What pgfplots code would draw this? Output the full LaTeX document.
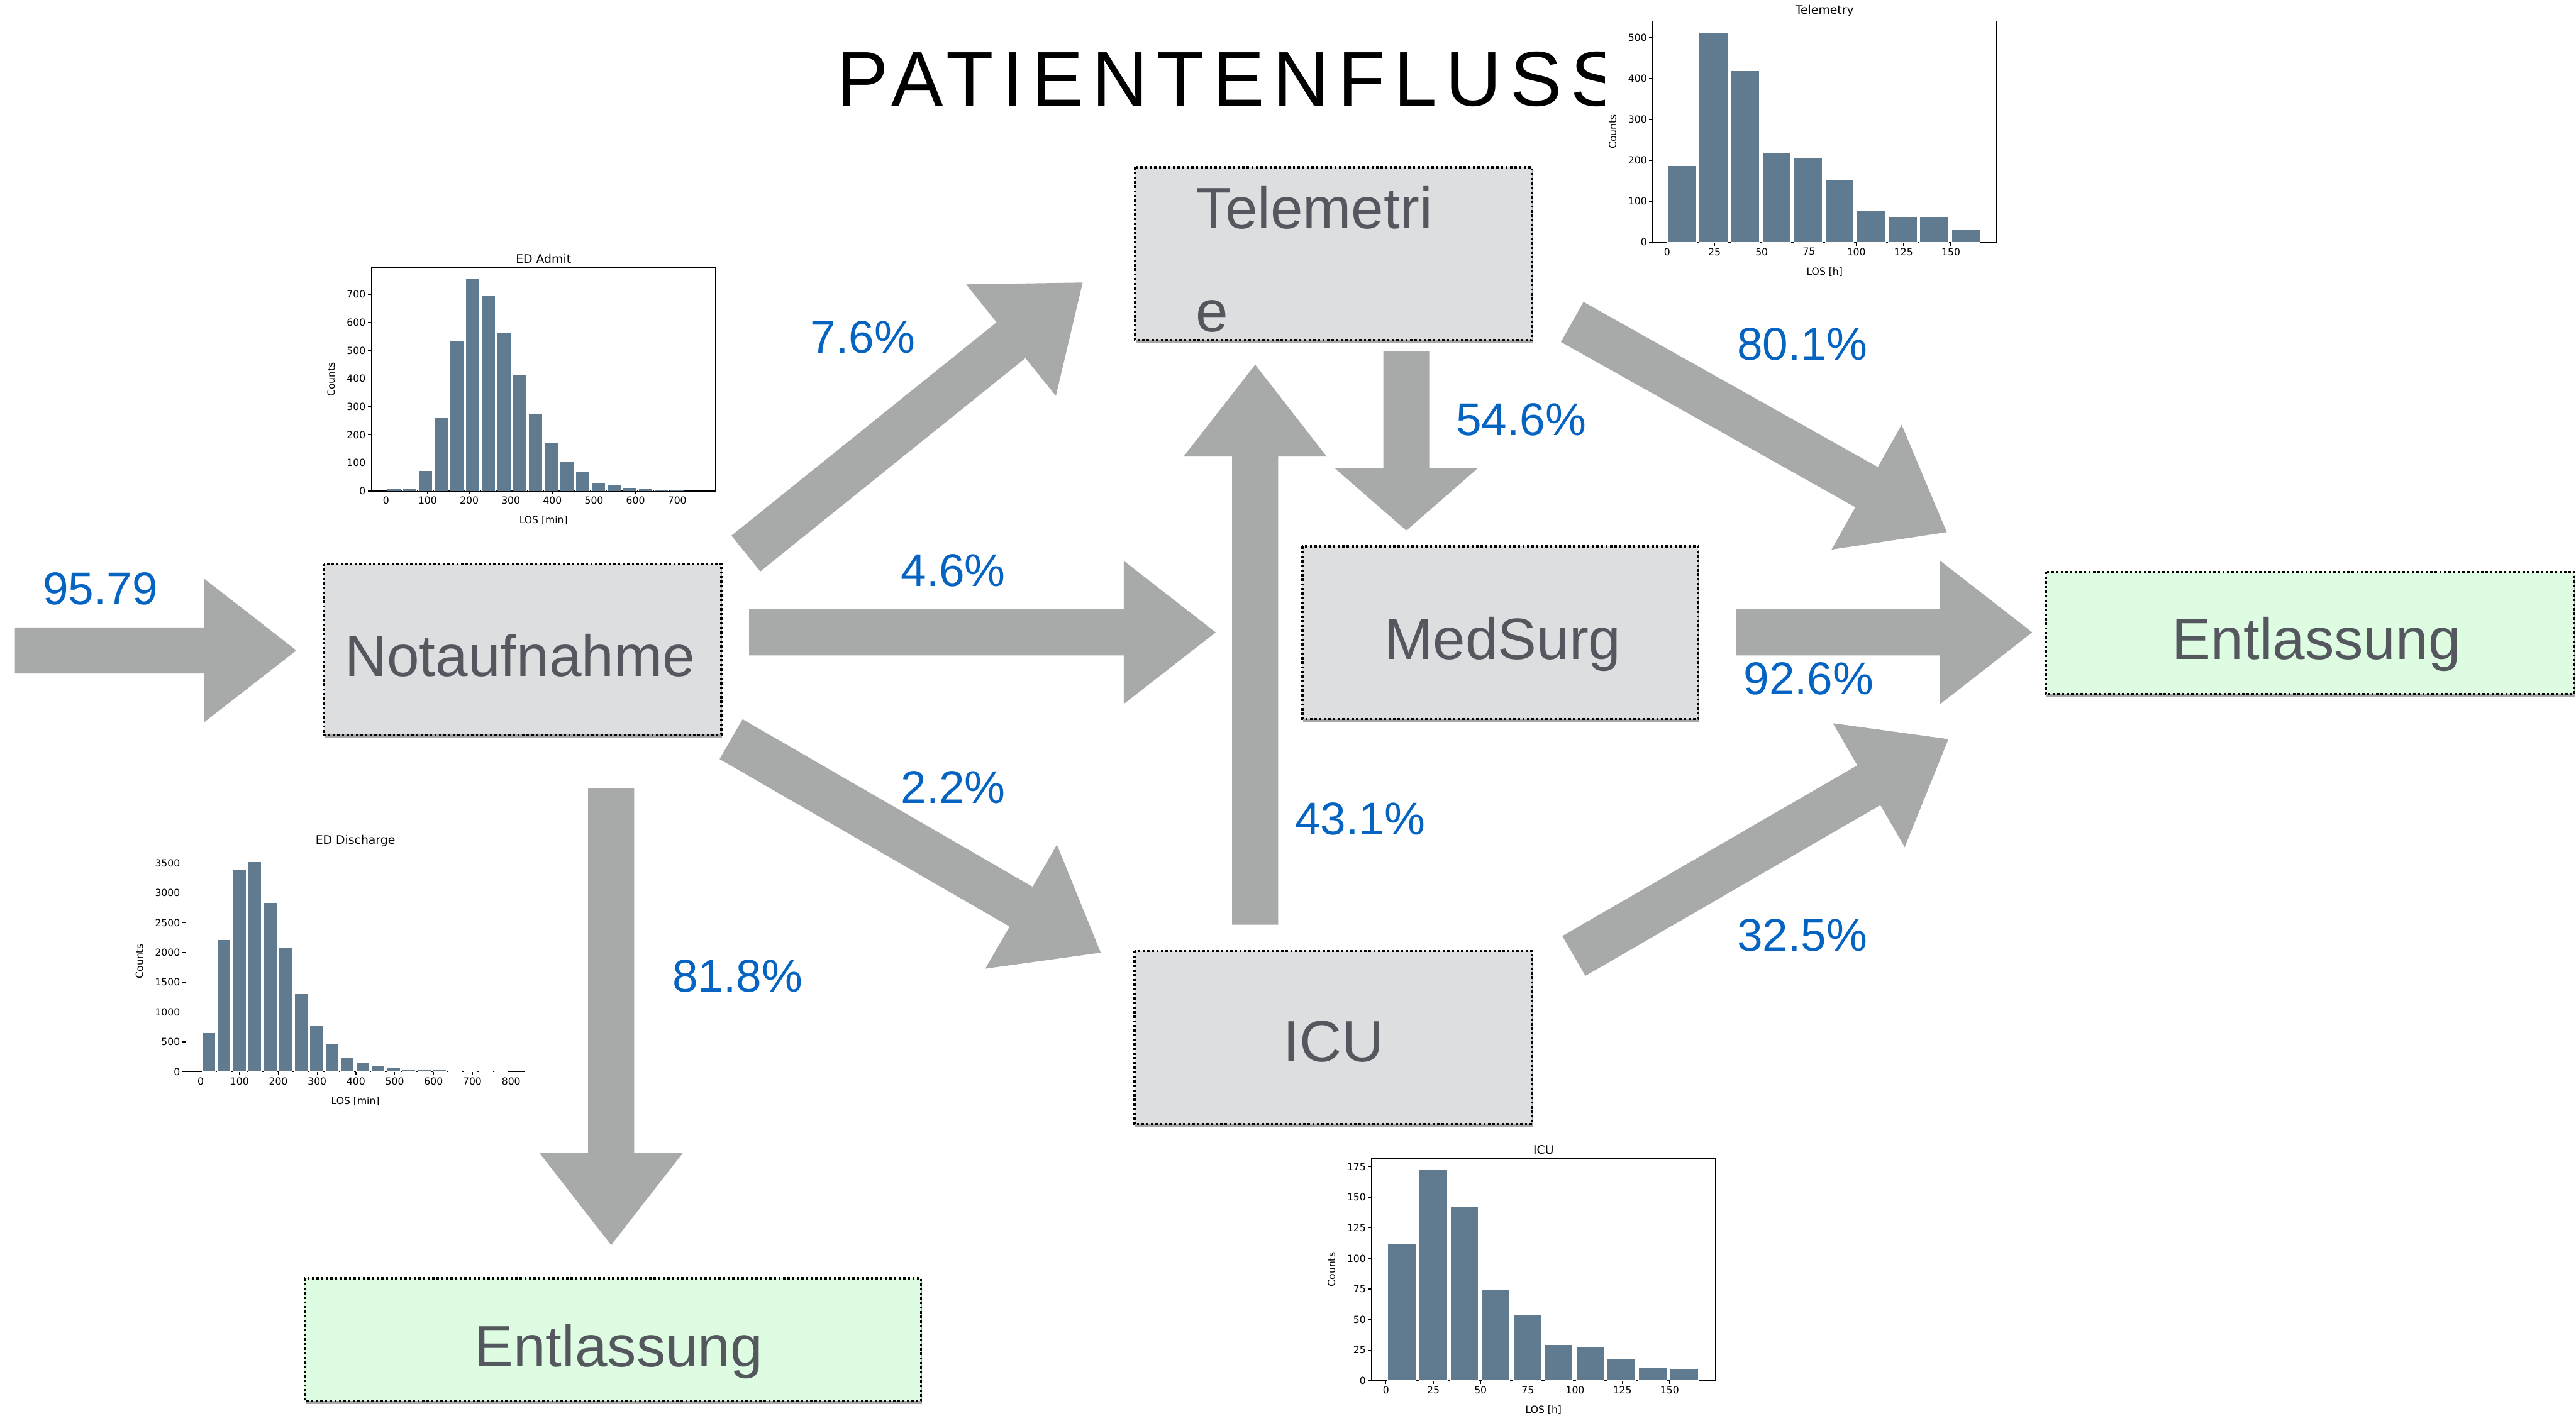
\documentclass[border=0pt]{standalone}
\usepackage{pgfplots}
\pgfplotsset{compat=1.18}
\usepackage{fontspec}
\setmainfont{Liberation Sans}
\newfontfamily\dejavu{DejaVu Sans}
\newfontfamily\titlefont[LetterSpace=11]{Liberation Sans}
\usetikzlibrary{shadows,calc}
\definecolor{arrowgray}{RGB}{168,170,169}
\definecolor{pctblue}{RGB}{5,99,193}
\definecolor{boxgray}{RGB}{221,222,224}
\definecolor{boxgreen}{RGB}{221,252,226}
\definecolor{boxtext}{RGB}{84,88,94}
\definecolor{barc}{RGB}{96,123,143}

\newcommand{\farrow}[5][56]{%
  \pgfmathsetmacro\fdx{#4-#2}%
  \pgfmathsetmacro\fdy{#5-#3}%
  \pgfmathsetmacro\flen{100*veclen(\fdx/100,\fdy/100)}%
  \pgfmathsetmacro\fang{atan2(-\fdy,\fdx)}%
  \pgfmathsetmacro\fb{\flen-#1}%
  \begin{scope}[shift={(#2,#3)},rotate=\fang]
    \fill[arrowgray] (0,-14) -- (\fb,-14) -- (\fb,-43.6) -- (\flen,0) -- (\fb,43.6) -- (\fb,14) -- (0,14) -- cycle;
  \end{scope}}

\pgfplotsset{hist/.style={
  scale only axis,
  ybar, bar shift=0pt,
  axis line style={line width=0.27pt, black},
  every tick/.style={line width=0.27pt, black},
  tick align=outside, major tick length=1.2pt,
  xtick pos=left, ytick pos=left,
  tick label style={font=\dejavu\fontsize{3.4}{4}\selectfont, inner sep=0.6pt},
  label style={font=\dejavu\fontsize{3.4}{4}\selectfont},
  every axis title/.style={at={(0.5,1)}, anchor=south, yshift=0.9pt, inner sep=0.4pt,
    font=\dejavu\fontsize{4.1}{4.9}\selectfont},
  /pgf/number format/assume math mode=true,
  /pgf/number format/1000 sep={},
  scaled ticks=false,
  axis background/.style={fill=white},
  ymin=0, anchor=north west,
}}
\tikzset{hbar/.style={fill=barc, draw=white, line width=0.2pt}}

\begin{document}
\begin{tikzpicture}
\begin{scope}[x=0.02cm,y=-0.02cm]
% arrows
\farrow{9}{396}{180.4}{396}
\farrow{456}{385}{740}{385}
\farrow{372}{480}{372}{758}
\farrow{454}{337}{659}{172}
\farrow{445}{450}{670}{580}
\farrow{764}{563}{764}{222}
\farrow[38]{856}{214}{856}{323}
\farrow{957}{196}{1185}{324}
\farrow{1057}{385}{1237}{385}
\farrow{958}{582}{1186}{450}
% boxes
\tikzset{bx/.style={draw=black, line width=0.75pt, dash pattern=on 0.8pt off 0.8pt,
  drop shadow={shadow xshift=0.3pt, shadow yshift=-1.1pt, opacity=0.35, fill=black}}}
\path[bx, fill=boxgray] (197,343.2) rectangle (439,447.3);
\path[bx, fill=boxgray] (690.7,101.8) rectangle (932.4,206.9);
\path[bx, fill=boxgray] (792.8,332.6) rectangle (1033.6,437.7);
\path[bx, fill=boxgray] (690.5,579) rectangle (932.7,684.3);
\path[bx, fill=boxgreen] (1245.2,348.2) rectangle (1566.8,422.6);
\path[bx, fill=boxgreen] (185.4,778.2) rectangle (560.6,852.9);
\tikzset{bt/.style={inner sep=0pt, text=boxtext, font=\fontsize{20.2}{24}\selectfont}}
\node[bt, anchor=base] at (316.5,411.7) {Notaufnahme};
\node[bt, anchor=base west] at (727.6,139.3) {Telemetri};
\node[bt, anchor=base west] at (727.6,202) {e};
\node[bt, anchor=base] at (914.7,401.3) {MedSurg};
\node[bt, anchor=base] at (811.7,646.5) {ICU};
\node[bt, anchor=base] at (1410,401.3) {Entlassung};
\node[bt, anchor=base] at (376.6,831.9) {Entlassung};
% percentages
\tikzset{pc/.style={inner sep=0pt, anchor=base west, text=pctblue, font=\fontsize{15.9}{19}\selectfont}}
\node[pc] at (25.8,368) {95.79};
\node[pc] at (493,215) {7.6\%};
\node[pc] at (548,357) {4.6\%};
\node[pc] at (548,489) {2.2\%};
\node[pc] at (409,604) {81.8\%};
\node[pc] at (886,265) {54.6\%};
\node[pc] at (788,508) {43.1\%};
\node[pc] at (1057,219) {80.1\%};
\node[pc] at (1061,423) {92.6\%};
\node[pc] at (1057,579) {32.5\%};
% title
\node[inner sep=0pt, anchor=base west, font=\titlefont\fontsize{26.9}{32}\selectfont] at (509,64.6) {PATIENTENFLUSS};
% white figure background of telemetry histogram
\fill[white] (977,0) rectangle (1225,172);
\end{scope}

% ED Admit
\begin{axis}[hist, at={(226*0.02cm,-163*0.02cm)}, width=4.194cm, height=2.72cm,
  xmin=-35.4, xmax=792.7, ymax=794.8,
  xtick={0,100,...,700}, ytick={0,100,...,700}, bar width=33,
  title={ED Admit}, xlabel={LOS [min]}, ylabel={Counts}]
\addplot[hbar] coordinates {(18.6,8) (56.43,8) (94.26,73) (132.09,264) (169.92,537) (207.75,756) (245.58,698) (283.41,566) (321.24,413) (359.07,274) (396.9,173) (434.73,106) (472.56,70) (510.39,30) (548.22,22) (586.05,12) (623.88,8) (661.71,4) (699.54,4)};
\end{axis}

% Telemetry
\begin{axis}[hist, at={(1006*0.02cm,-12.9*0.02cm)}, width=4.186cm, height=2.692cm,
  xmin=-7.6, xmax=174.1, ymax=540.4,
  xtick={0,25,...,150}, ytick={0,100,...,500}, bar width=15.1,
  title={Telemetry}, xlabel={LOS [h]}, ylabel={Counts}]
\addplot[hbar] coordinates {(7.85,187) (24.52,513) (41.19,419) (57.86,219) (74.53,207) (91.2,153) (107.87,78) (124.54,63) (141.21,63) (157.88,31)};
\end{axis}

% ED Discharge
\begin{axis}[hist, at={(113.1*0.02cm,-518.2*0.02cm)}, width=4.13cm, height=2.686cm,
  xmin=-38.4, xmax=835.7, ymax=3702,
  xtick={0,100,...,800}, ytick={0,500,...,3500}, bar width=34,
  title={ED Discharge}, xlabel={LOS [min]}, ylabel={Counts}]
\addplot[hbar] coordinates {(20.3,649) (60,2212) (99.7,3386) (139.4,3521) (179.1,2843) (218.8,2076) (258.5,1313) (298.2,769) (337.9,480) (377.6,241) (417.3,154) (457,106) (496.7,69) (536.4,36) (576.1,36) (615.8,36) (655.5,21) (695.2,21) (734.9,21) (774.6,21)};
\end{axis}

% ICU
\begin{axis}[hist, at={(834.9*0.02cm,-705.2*0.02cm)}, width=4.186cm, height=2.708cm,
  xmin=-7.6, xmax=174.2, ymax=181.9,
  xtick={0,25,...,150}, ytick={0,25,...,175}, bar width=14.8,
  title={ICU}, xlabel={LOS [h]}, ylabel={Counts}]
\addplot[hbar] coordinates {(8.3,112) (24.9,173) (41.5,142) (58.1,74) (74.7,53.5) (91.3,29.5) (107.9,28) (124.5,18) (141.1,11) (157.7,9.5)};
\end{axis}
\pgfresetboundingbox
\path[use as bounding box] (0,0) rectangle (1568*0.02cm,-862*0.02cm);
\end{tikzpicture}
\end{document}
